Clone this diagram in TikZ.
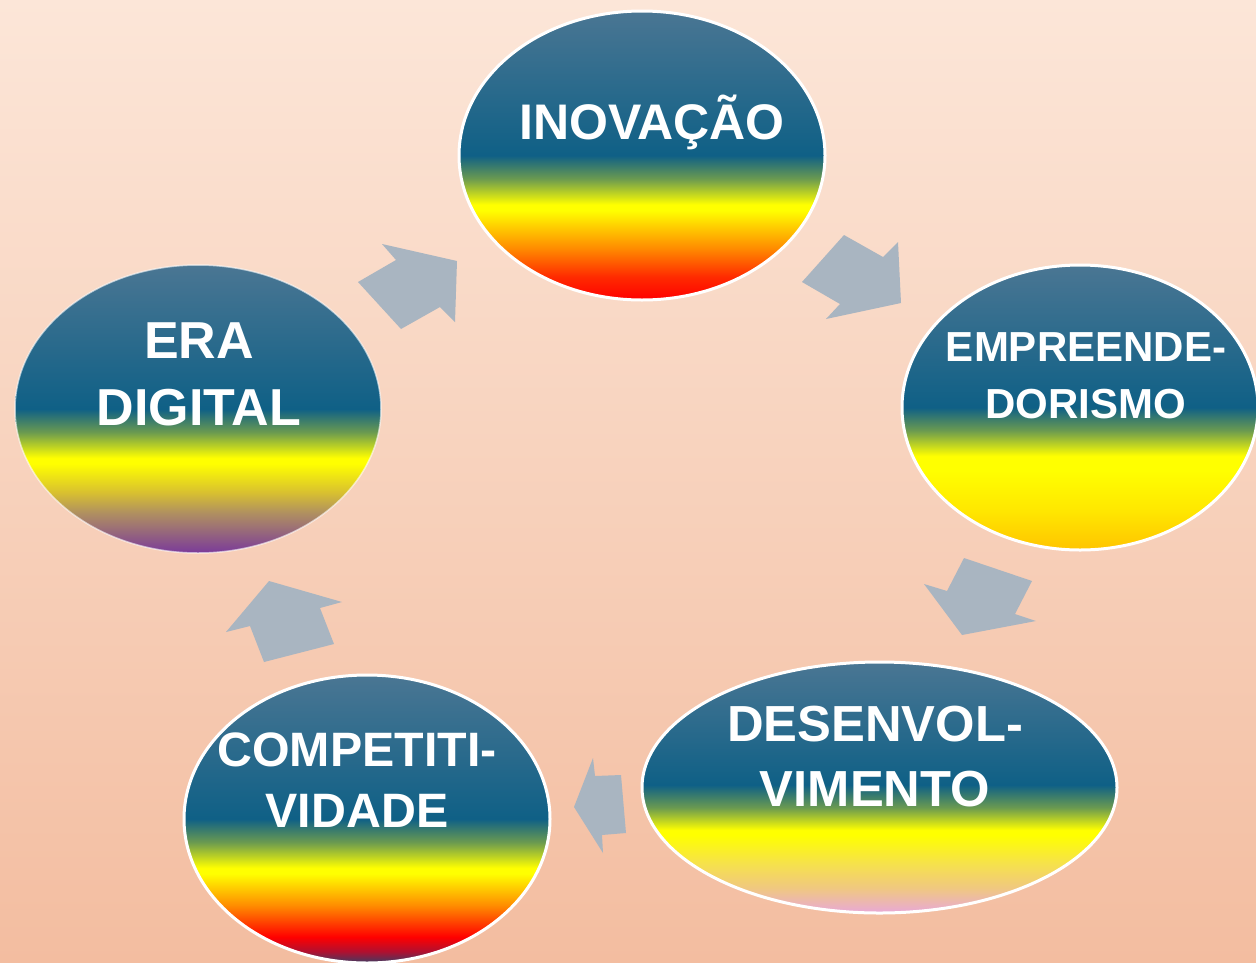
\documentclass[tikz,border=0pt]{standalone}
\usepackage{fontspec}
\setmainfont{Liberation Sans}
\usetikzlibrary{shapes.geometric}
\definecolor{bgtop}{HTML}{FCE6D8}
\definecolor{bgbot}{HTML}{F3BDA0}
\definecolor{tblue}{HTML}{4A7693}
\definecolor{dblue}{HTML}{0F6086}
\definecolor{mgreen}{HTML}{6A9A50}
\definecolor{yel}{HTML}{FFFF00}
\definecolor{orng}{HTML}{FF8C00}
\definecolor{rd}{HTML}{FF0000}
\definecolor{gold}{HTML}{FFC400}
\definecolor{ltyel}{HTML}{F6E24A}
\definecolor{peach}{HTML}{F0C880}
\definecolor{pnk}{HTML}{E8A8D8}
\definecolor{dpurp}{HTML}{3C3C64}
\definecolor{crim}{HTML}{B01030}
\definecolor{purp}{HTML}{7A3A9A}
\definecolor{brn}{HTML}{B09060}
\definecolor{ochre}{HTML}{D8C030}
\definecolor{arrowgray}{HTML}{A9B5C1}
\pgfdeclareverticalshading{shInov}{100bp}{color(0bp)=(rd); color(25bp)=(rd); color(29bp)=(rd!70!orng); color(34bp)=(orng); color(40.5bp)=(yel); color(41.5bp)=(yel); color(46bp)=(mgreen); color(50bp)=(dblue); color(75bp)=(tblue); color(100bp)=(tblue)}
\pgfdeclareverticalshading{shEmp}{100bp}{color(0bp)=(gold); color(25bp)=(gold); color(32bp)=(yel!60!gold); color(39bp)=(yel); color(41.5bp)=(yel); color(46bp)=(mgreen); color(50bp)=(dblue); color(75bp)=(tblue); color(100bp)=(tblue)}
\pgfdeclareverticalshading{shDes}{100bp}{color(0bp)=(pnk); color(25bp)=(pnk); color(30bp)=(peach); color(35bp)=(ltyel); color(40.5bp)=(yel); color(41.5bp)=(yel); color(46bp)=(mgreen); color(50.5bp)=(dblue); color(75bp)=(tblue); color(100bp)=(tblue)}
\pgfdeclareverticalshading{shCom}{100bp}{color(0bp)=(dpurp); color(25bp)=(dpurp); color(27bp)=(crim); color(29.5bp)=(rd); color(35bp)=(orng); color(40.5bp)=(yel); color(41.5bp)=(yel); color(46bp)=(mgreen); color(50bp)=(dblue); color(75bp)=(tblue); color(100bp)=(tblue)}
\pgfdeclareverticalshading{shEra}{100bp}{color(0bp)=(purp); color(25bp)=(purp); color(32bp)=(brn); color(35.5bp)=(ochre); color(40.5bp)=(yel); color(41.5bp)=(yel); color(46bp)=(mgreen); color(50bp)=(dblue); color(75bp)=(tblue); color(100bp)=(tblue)}
\tikzset{
  bubble/.style={ellipse, inner sep=0pt, outer sep=0pt, draw=white, line width=3pt},
  lbl/.style={text=white, font=\bfseries, inner sep=0pt},
  blockarrow/.style={fill=arrowgray, draw=none}
}
\begin{document}
\begin{tikzpicture}[x=1pt,y=-1pt]
\useasboundingbox (0,0) rectangle (1256,962);
\clip (0,0) rectangle (1256,962);
\shade[top color=bgtop, bottom color=bgbot] (0,0) rectangle (1256,962);
% block arrows
\fill[blockarrow] (358,282) -- (396,260) -- (382,244) -- (457,261) -- (455,322) -- (440,307) -- (401,329) -- cycle;
\fill[blockarrow] (844,235) -- (883,257) -- (898,242) -- (901,303) -- (826,319) -- (840,304) -- (802,282) -- cycle;
\fill[blockarrow] (964,558) -- (1032,581) -- (1015,614) -- (1036,621) -- (962,635) -- (924,584) -- (947,591) -- cycle;
\fill[blockarrow] (593,758) -- (595,776) -- (621,775) -- (626,833) -- (602,835) -- (603,853) -- (574,807) -- cycle;
\fill[blockarrow] (269,581) -- (342,602) -- (320,608) -- (334,644) -- (264,662) -- (250,626) -- (226,632) -- cycle;
% ellipses
\node[bubble, shading=shInov, minimum width=366pt, minimum height=289pt] (inov) at (642,155.5) {};
\node[bubble, shading=shEmp, minimum width=356pt, minimum height=285pt] (emp) at (1080,407.5) {};
\node[bubble, shading=shDes, minimum width=475pt, minimum height=251pt] (des) at (879.5,787.5) {};
\node[bubble, shading=shCom, minimum width=366pt, minimum height=288pt] (com) at (367,819) {};
\node[bubble, shading=shEra, minimum width=366pt, minimum height=288pt, draw opacity=0.6, line width=1.5pt] (era) at (198,409) {};
% labels
\node[lbl, font=\bfseries\fontsize{50}{60}\selectfont, anchor=base] (tinov) at (652,139) {INOVAÇÃO};
\node[lbl, font=\bfseries\fontsize{42}{57}\selectfont, align=center] (temp) at (1086,375.5) {EMPREENDE-\\DORISMO};
\node[lbl, font=\bfseries\fontsize{50.7}{65}\selectfont, align=center] (tdes) at (875,757) {DESENVOL-\\VIMENTO};
\node[lbl, font=\bfseries\fontsize{48.3}{61}\selectfont, align=center] (tcom) at (357,780) {COMPETITI-\\VIDADE};
\node[lbl, font=\bfseries\fontsize{52}{67}\selectfont, align=center] (tera) at (199,374.5) {ERA\\DIGITAL};
\end{tikzpicture}
\end{document}
